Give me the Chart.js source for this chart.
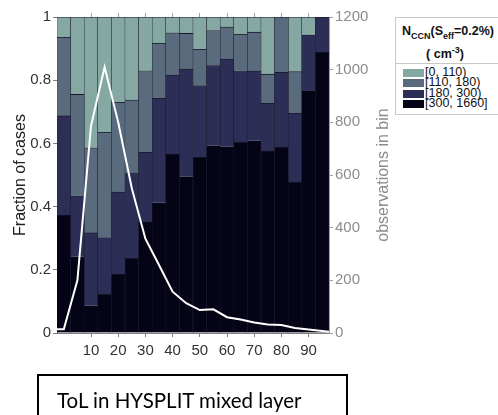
<!DOCTYPE html>
<html lang="en">
<head>
<meta charset="UTF-8">
<title>Fraction of cases by ToL</title>
<script src="https://cdn.jsdelivr.net/npm/chart.js"></script>
<style>
  body { margin: 0; background: #fff; font-family: "Liberation Sans", Arial, sans-serif; }
  #wrap { position: relative; width: 498px; height: 415px; overflow: hidden; }
  #myChart { position: absolute; left: 0; top: 0; }
  #legend {
    position: absolute; left: 395px; top: 17px; width: 110px; height: 96px;
    border: 1px solid #c8c8c8; background: #fff; color: #111;
  }
  #legend .hd { font-weight: bold; font-size: 12.5px; text-align: center; white-space: nowrap; }
  #legend .hd sub { font-size: 9px; }
  #legend .hd sup { font-size: 9px; }
  #legend .hd1 { margin-top: 6px; margin-left: -6px; }
  #legend .hd2 { margin-top: 4px; margin-left: -12px; }
  #legend .items { border-top: 1px solid #c8c8c8; margin-top: 2px; padding-top: 3px; }
  #legend .row { height: 10.5px; line-height: 10.5px; font-size: 12.5px; white-space: nowrap; }
  #legend .sw { display: inline-block; width: 21px; height: 8px; margin: 0 1px 0 7px; vertical-align: -1px; }
  #caption {
    position: absolute; left: 37px; top: 374px; width: 311px; height: 60px;
    border: 2px solid #000; font-family: Lato, "Open Sans", sans-serif; font-size: 20.5px;
    color: #000; padding-left: 18px; padding-top: 4px; box-sizing: border-box; line-height: 40px;
  }
</style>
</head>
<body>
<div id="wrap">
  <canvas id="myChart" width="498" height="415"></canvas>
  <div id="legend">
    <div class="hd hd1">N<sub>CCN</sub>(S<sub>eff</sub>=0.2%)</div>
    <div class="hd hd2">( cm<sup>-3</sup>)</div>
    <div class="items" id="legendItems"></div>
  </div>
  <div id="caption">ToL in HYSPLIT mixed layer</div>
</div>
<script>
// bin centres of the ToL histogram (width 5)
var binCenters = [0, 5, 10, 15, 20, 25, 30, 35, 40, 45, 50, 55, 60, 65, 70, 75, 80, 85, 90, 95];

// fraction of cases in each N_CCN class, per bin
var frac300 = [0.373, 0.241, 0.086, 0.122, 0.186, 0.236, 0.352, 0.412, 0.566, 0.495,
               0.556, 0.593, 0.590, 0.603, 0.608, 0.576, 0.588, 0.477, 0.767, 0.888];
var frac180 = [0.314, 0.193, 0.231, 0.180, 0.260, 0.272, 0.220, 0.331, 0.250, 0.340,
               0.227, 0.253, 0.277, 0.227, 0.221, 0.151, 0.237, 0.218, 0.176, 0.112];
var frac110 = [0.249, 0.321, 0.269, 0.333, 0.284, 0.229, 0.258, 0.174, 0.134, 0.113,
               0.115, 0.111, 0.101, 0.115, 0.123, 0.092, 0.175, 0.132, 0.000, 0.000];
var frac0   = [0.064, 0.245, 0.414, 0.365, 0.270, 0.263, 0.170, 0.083, 0.050, 0.052,
               0.102, 0.043, 0.032, 0.055, 0.048, 0.181, 0.000, 0.173, 0.057, 0.000];

// number of observations per bin (line runs edge to edge)
var lineX    = [-2.5, 0, 5, 10, 15, 20, 25, 30, 35, 40, 45, 50, 55, 60, 65, 70, 75, 80, 85, 90, 95, 97.5];
var obsInBin = [14, 14, 200, 786, 1010, 800, 550, 358, 258, 157, 113, 87, 90, 60, 51, 40, 32, 30, 19, 13, 8, 5];

var xTicks = [10, 20, 30, 40, 50, 60, 70, 80, 90];
var fracTicks = [0, 0.2, 0.4, 0.6, 0.8, 1];
var obsTicks = [0, 200, 400, 600, 800, 1000, 1200];

var classLabels = ['[0, 110)', '[110, 180)', '[180, 300)', '[300, 1660]'];
var classColors = ['#85a8a3', '#596b7c', '#2d2e55', '#050416'];

var FONT = '"Liberation Sans", Arial, sans-serif';

function pairs(xs, ys) {
  return xs.map(function (x, i) { return { x: x, y: ys[i] }; });
}

function barSet(label, values, color) {
  return {
    type: 'bar',
    label: label,
    data: pairs(binCenters, values),
    backgroundColor: color,
    borderColor: '#14162a',
    borderWidth: { left: 0.5, right: 0.5, top: 0.8, bottom: 0 },
    borderSkipped: false,
    barPercentage: 1,
    categoryPercentage: 1,
    yAxisID: 'y',
    order: 1
  };
}

function fixTicks(list) {
  return function (scale) {
    scale.ticks = list.map(function (v) { return { value: v }; });
  };
}

// right-hand axis title, reading bottom to top
var rightTitle = {
  id: 'rightTitle',
  afterDraw: function (chart) {
    var ctx = chart.ctx, a = chart.chartArea;
    ctx.save();
    ctx.translate(384, (a.top + a.bottom) / 2);
    ctx.rotate(-Math.PI / 2);
    ctx.font = '16px ' + FONT;
    ctx.fillStyle = '#8c8c8c';
    ctx.textAlign = 'center';
    ctx.textBaseline = 'middle';
    ctx.fillText('observations in bin', 0, 0);
    ctx.restore();
  }
};

var ctx = document.getElementById('myChart').getContext('2d');
var myChart = new Chart(ctx, {
  data: {
    datasets: [
      {
        type: 'line',
        label: 'observations',
        data: pairs(lineX, obsInBin),
        borderColor: '#ffffff',
        borderWidth: 2,
        pointRadius: 0,
        tension: 0,
        yAxisID: 'y2',
        order: 0
      },
      barSet(classLabels[3], frac300, classColors[3]),
      barSet(classLabels[2], frac180, classColors[2]),
      barSet(classLabels[1], frac110, classColors[1]),
      barSet(classLabels[0], frac0, classColors[0])
    ]
  },
  options: {
    responsive: false,
    animation: false,
    layout: { padding: { top: 17, left: 0, right: 0, bottom: 0 } },
    plugins: { legend: { display: false }, tooltip: { enabled: false } },
    scales: {
      x: {
        type: 'linear', min: -2.5, max: 97.5, stacked: true, offset: false,
        afterBuildTicks: fixTicks(xTicks),
        afterFit: function (s) { s.height = 82; },
        grid: { drawOnChartArea: false, offset: false, tickLength: 4, color: '#808080' },
        border: { color: '#808080' },
        ticks: { font: { family: FONT, size: 15 }, color: '#333', padding: 5, maxRotation: 0 }
      },
      xTop: {
        type: 'linear', position: 'top', min: -2.5, max: 97.5, offset: false,
        afterBuildTicks: fixTicks(xTicks),
        afterFit: function (s) { s.height = 0; },
        grid: { drawOnChartArea: false, offset: false, tickLength: 4, color: '#a0a0a0' },
        border: { color: '#a0a0a0' },
        ticks: { display: false }
      },
      y: {
        type: 'linear', min: 0, max: 1, stacked: true,
        afterBuildTicks: fixTicks(fracTicks),
        afterFit: function (s) { s.width = 57; },
        grid: { drawOnChartArea: false, tickLength: 4, color: '#808080' },
        border: { color: '#808080' },
        ticks: {
          font: { family: FONT, size: 15 }, color: '#333', padding: 2,
          callback: function (v) { return String(Math.round(v * 10) / 10); }
        },
        title: {
          display: true, text: 'Fraction of cases',
          font: { family: FONT, size: 16 }, color: '#222',
          padding: { top: 11, bottom: 0 }
        }
      },
      y2: {
        type: 'linear', position: 'right', min: 0, max: 1200,
        afterBuildTicks: fixTicks(obsTicks),
        afterFit: function (s) { s.width = 169; },
        grid: { drawOnChartArea: false, tickLength: 4, color: '#a0a0a0' },
        border: { color: '#a0a0a0' },
        ticks: {
          font: { family: FONT, size: 15 }, color: '#8c8c8c', padding: 2,
          callback: function (v) { return String(v); }
        }
      }
    }
  },
  plugins: [rightTitle]
});

// legend entries
var box = document.getElementById('legendItems');
classLabels.forEach(function (lab, i) {
  var row = document.createElement('div');
  row.className = 'row';
  var sw = document.createElement('span');
  sw.className = 'sw';
  sw.style.background = classColors[i];
  row.appendChild(sw);
  row.appendChild(document.createTextNode(lab));
  box.appendChild(row);
});
</script>
</body>
</html>
